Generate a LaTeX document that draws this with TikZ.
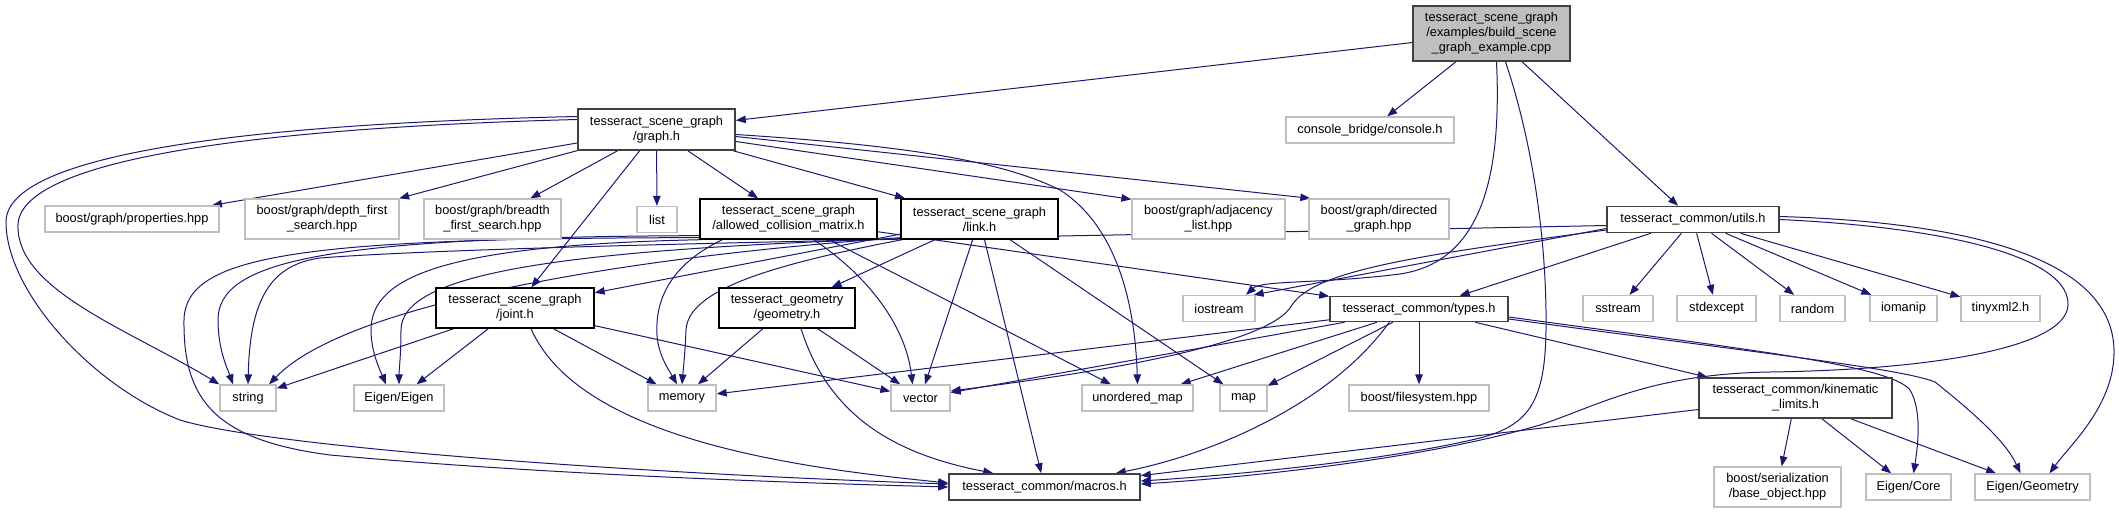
\documentclass[tikz,border=0pt]{standalone}
\usepackage{fontspec}
\setmainfont{Liberation Sans}
\usetikzlibrary{arrows.meta,calc}
\definecolor{edgec}{HTML}{191970}
\definecolor{extgray}{HTML}{BFBFBF}
\definecolor{rootfill}{HTML}{BFBFBF}
\definecolor{darkb}{HTML}{404040}
\newcommand{\nodefont}{\fontsize{12.8}{15}\selectfont}
\pgfdeclarelayer{bg}
\pgfsetlayers{bg,main}
\tikzset{
  basebox/.style={rectangle, inner sep=0pt, align=center, font=\nodefont, fill=white, text=black},
  docbox/.style={basebox, draw=black, line width=1.3pt},
  darkbox/.style={basebox, draw=darkb, line width=1.6pt},
  extbox/.style={basebox, draw=extgray, line width=1.3pt},
  rootbox/.style={basebox, draw=darkb, line width=1.6pt, fill=rootfill},
  dep/.style={draw=edgec, line width=1pt, -{Triangle[length=10pt,width=7.5pt]}},
}
\begin{document}
\begin{tikzpicture}[x=1pt,y=-1pt]
\useasboundingbox (0,0) rectangle (2119,513);

% nodes
\node[rootbox, minimum width=157pt, minimum height=55pt] (root) at (1491.5,33.5) {tesseract\_scene\_graph\\/examples/build\_scene\\\_graph\_example.cpp};
\node[darkbox, minimum width=157pt, minimum height=41pt] (graph) at (656.5,129.5) {tesseract\_scene\_graph\\/graph.h};
\node[extbox, minimum width=168pt, minimum height=26pt] (console) at (1370,130) {console\_bridge/console.h};
\node[extbox, minimum width=174pt, minimum height=26pt] (properties) at (132,219) {boost/graph/properties.hpp};
\node[extbox, minimum width=154pt, minimum height=40pt] (dfs) at (322,219) {boost/graph/depth\_first\\\_search.hpp};
\node[extbox, minimum width=137pt, minimum height=40pt] (bfs) at (492.5,219) {boost/graph/breadth\\\_first\_search.hpp};
\node[extbox, minimum width=40pt, minimum height=26pt] (list) at (657,219.5) {list};
\node[docbox, minimum width=177pt, minimum height=40pt] (acm) at (788.5,219) {tesseract\_scene\_graph\\/allowed\_collision\_matrix.h};
\node[docbox, minimum width=157pt, minimum height=40pt] (link) at (979.5,219) {tesseract\_scene\_graph\\/link.h};
\node[extbox, minimum width=153pt, minimum height=40pt] (adjacency) at (1208.5,219) {boost/graph/adjacency\\\_list.hpp};
\node[extbox, minimum width=140pt, minimum height=40pt] (directed) at (1379,219) {boost/graph/directed\\\_graph.hpp};
\node[darkbox, minimum width=172pt, minimum height=26pt] (utils) at (1693,219.5) {tesseract\_common/utils.h};
\node[docbox, minimum width=158pt, minimum height=40pt] (joint) at (515,308) {tesseract\_scene\_graph\\/joint.h};
\node[docbox, minimum width=136pt, minimum height=40pt] (geometry) at (787,308) {tesseract\_geometry\\/geometry.h};
\node[extbox, minimum width=72pt, minimum height=26pt] (iostream) at (1219,308.5) {iostream};
\node[darkbox, minimum width=178pt, minimum height=25pt] (types) at (1419,309) {tesseract\_common/types.h};
\node[extbox, minimum width=70pt, minimum height=26pt] (sstream) at (1618,308.5) {sstream};
\node[extbox, minimum width=79pt, minimum height=26pt] (stdexcept) at (1716.5,308.5) {stdexcept};
\node[extbox, minimum width=65pt, minimum height=26pt] (random) at (1812.5,308.5) {random};
\node[extbox, minimum width=67pt, minimum height=26pt] (iomanip) at (1903.5,308.5) {iomanip};
\node[extbox, minimum width=79pt, minimum height=26pt] (tinyxml) at (2000.5,308.5) {tinyxml2.h};
\node[extbox, minimum width=56pt, minimum height=26pt] (string) at (248,398) {string};
\node[extbox, minimum width=90pt, minimum height=26pt] (eigen) at (399,398) {Eigen/Eigen};
\node[extbox, minimum width=68pt, minimum height=26pt] (memory) at (682,398) {memory};
\node[extbox, minimum width=59pt, minimum height=26pt] (vector) at (920.5,398) {vector};
\node[extbox, minimum width=111pt, minimum height=26pt] (umap) at (1137.5,398) {unordered\_map};
\node[extbox, minimum width=47pt, minimum height=26pt] (map) at (1243.5,398) {map};
\node[extbox, minimum width=140pt, minimum height=26pt] (filesystem) at (1419,398) {boost/filesystem.hpp};
\node[darkbox, minimum width=193pt, minimum height=40pt] (kinematic) at (1795.5,398) {tesseract\_common/kinematic\\\_limits.h};
\node[darkbox, minimum width=191pt, minimum height=26pt] (macros) at (1044.5,487) {tesseract\_common/macros.h};
\node[extbox, minimum width=127pt, minimum height=40pt] (baseobj) at (1777.5,487) {boost/serialization\\/base\_object.hpp};
\node[extbox, minimum width=85pt, minimum height=26pt] (core) at (1908.5,487) {Eigen/Core};
\node[extbox, minimum width=115pt, minimum height=26pt] (egeom) at (2032.5,487) {Eigen/Geometry};

\begin{pgfonlayer}{bg}
% root
\draw[dep] (root) -- (graph);
\draw[dep] (root) -- (console);
\draw[dep] (root) -- (utils);
\draw[dep] ($(root.south)+(5,0)$) .. controls (1502,180) and (1480,262) .. (1400,274) .. controls (1320,284) and (1262,280) .. ($(iostream.north)+(27,0)$);
\draw[dep] ($(root.south)+(14,0)$) .. controls (1535,150) and (1547,250) .. (1546,330) .. controls (1545,400) and (1530,425) .. (1480,438) .. controls (1380,462) and (1220,476) .. ($(macros.east)+(0,-6)$);
% graph
\draw[dep] (graph) -- (properties);
\draw[dep] (graph) -- (dfs);
\draw[dep] (graph) -- (bfs);
\draw[dep] (graph) -- (list);
\draw[dep] (graph) -- (joint);
\draw[dep] (graph) -- (acm);
\draw[dep] (graph) -- (link);
\draw[dep] ($(graph.east)+(0,12)$) -- ($(adjacency.north west)+(0,1)$);
\draw[dep] ($(graph.east)+(0,7)$) -- ($(directed.north west)+(2,0)$);
\draw[dep] ($(graph.east)+(0,5)$) .. controls (900,145) and (1000,160) .. (1060,190) .. controls (1115,225) and (1135,300) .. (umap.north);
\draw[dep] ($(graph.west)+(0,-10)$) .. controls (250,128) and (20,160) .. (18,225) .. controls (16,290) and (130,330) .. (string.north west);
\draw[dep] ($(graph.west)+(0,-13)$) .. controls (240,124) and (6,155) .. (6,222) .. controls (6,290) and (90,385) .. (180,420) .. controls (260,445) and (600,472) .. ($(macros.west)+(0,-3)$);
% acm
\draw[dep] (acm) -- (types);
\draw[dep] (acm) -- (umap);
\draw[dep] ($(acm.south west)+(0,-4)$) .. controls (320,237) and (218,262) .. (218,320) .. controls (218,350) and (228,370) .. ($(string.north)+(-15,0)$);
\draw[dep] ($(acm.south west)+(0,-2)$) .. controls (300,238) and (185,255) .. (184,320) .. controls (183,400) and (215,440) .. (330,455) .. controls (550,475) and (800,483) .. (macros.west);
\draw[dep] ($(acm.south west)+(3,0)$) .. controls (450,245) and (371,275) .. (371,330) .. controls (371,352) and (380,370) .. ($(eigen.north)+(-13,0)$);
\draw[dep] ($(acm.south west)+(23,0)$) .. controls (670,265) and (655,300) .. (657,335) .. controls (658,355) and (670,372) .. ($(memory.north)+(-5,0)$);
\draw[dep] ($(acm.south)+(25,0)$) .. controls (860,270) and (905,320) .. ($(vector.north)+(-8,0)$);
% link
\draw[dep] (link) -- (joint);
\draw[dep] (link) -- (geometry);
\draw[dep] (link) -- (vector);
\draw[dep] (link) -- (macros);
\draw[dep] (link) -- (map);
\draw[dep] ($(link.south west)+(0,-2)$) .. controls (650,255) and (350,300) .. ($(string.north)+(21,0)$);
\draw[dep] ($(link.south west)+(0,-1)$) .. controls (550,250) and (401,275) .. (401,330) .. controls (401,355) and (399,370) .. (eigen.north);
\draw[dep] ($(link.south west)+(2,0)$) .. controls (770,265) and (688,290) .. (686,330) .. controls (685,355) and (683,372) .. (memory.north);
% joint
\draw[dep] (joint) -- (string);
\draw[dep] (joint) -- (eigen);
\draw[dep] (joint) -- (memory);
\draw[dep] (joint) -- (vector);
\draw[dep] ($(joint.south)+(16,0)$) .. controls (580,440) and (800,468) .. ($(macros.west)+(0,-4)$);
% geometry
\draw[dep] (geometry) -- (memory);
\draw[dep] (geometry) -- (vector);
\draw[dep] ($(geometry.south)+(14,0)$) .. controls (830,420) and (900,455) .. ($(macros.north west)+(45,0)$);
% utils
\draw[dep] (utils) -- (sstream);
\draw[dep] (utils) -- (stdexcept);
\draw[dep] (utils) -- (random);
\draw[dep] (utils) -- (iomanip);
\draw[dep] (utils) -- (tinyxml);
\draw[dep] (utils) -- (types);
\draw[dep] ($(utils.west)+(0,9)$) -- ($(iostream.north east)+(-2,0)$);
\draw[dep] ($(utils.west)+(0,10.5)$) .. controls (1420,255) and (1315,270) .. (1292,305) .. controls (1270,345) and (1100,372) .. ($(vector.east)+(0,-7)$);
\draw[dep] ($(utils.west)+(0,6)$) .. controls (1100,236) and (500,244) .. (320,258) .. controls (270,265) and (250,300) .. (string.north);
\draw[dep] (utils.east) .. controls (1960,228) and (2070,260) .. (2068,305) .. controls (2066,350) and (1920,370) .. (1770,372) .. controls (1650,374) and (1600,405) .. (1540,425) .. controls (1420,460) and (1240,478) .. ($(macros.east)+(0,-3)$);
\draw[dep] ($(utils.east)+(0,-3)$) .. controls (1960,222) and (2112,255) .. (2114,350) .. controls (2115,405) and (2070,445) .. ($(egeom.north)+(17,0)$);
% types
\draw[dep] (types) -- (kinematic);
\draw[dep] (types) -- (filesystem);
\draw[dep] (types) -- (map);
\draw[dep] (types) -- (umap);
\draw[dep] (types) -- (vector);
\draw[dep] (types) -- (memory);
\draw[dep] ($(types.east)+(0,8)$) .. controls (1750,350) and (1890,365) .. (1910,390) .. controls (1922,410) and (1918,445) .. ($(core.north)+(5,0)$);
\draw[dep] ($(types.east)+(0,10)$) .. controls (1750,352) and (1900,368) .. (1935,382) .. controls (1970,410) and (2005,440) .. ($(egeom.north)+(-12,0)$);
\draw[dep] ($(types.south west)+(60,0)$) .. controls (1330,405) and (1210,455) .. ($(macros.north east)+(-25,0)$);
% kinematic
\draw[dep] (kinematic) -- (macros);
\draw[dep] (kinematic) -- (baseobj);
\draw[dep] (kinematic) -- (core);
\draw[dep] (kinematic) -- (egeom);
\end{pgfonlayer}
\end{tikzpicture}
\end{document}
